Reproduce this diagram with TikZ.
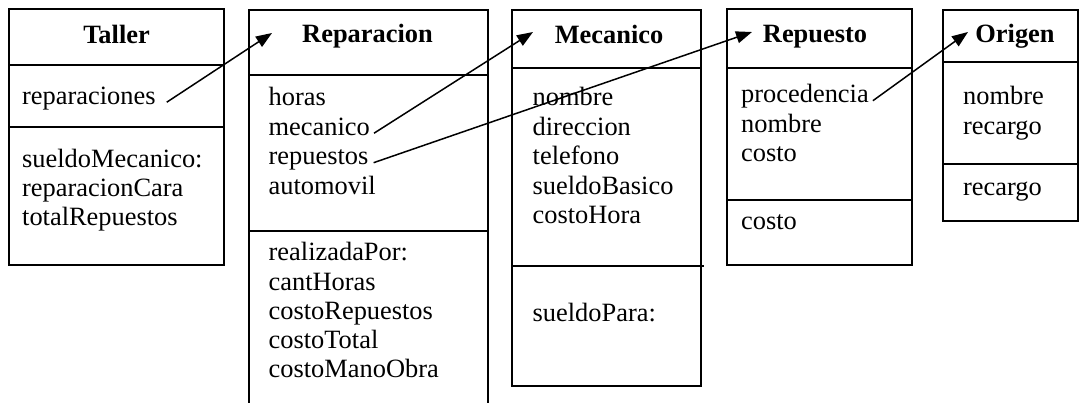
\documentclass[tikz,border=0pt]{standalone}
\usepackage{fontspec}
\setmainfont{Liberation Serif}
\usepackage{tikz}
\usetikzlibrary{arrows.meta}
\tikzstyle{cls}=[draw=black,line width=1.6pt,anchor=north west,inner sep=0pt,outer sep=0pt]
\tikzstyle{sep}=[line width=1.6pt]
\tikzstyle{title}=[anchor=base,inner sep=0pt,font=\fontsize{26.4}{30}\selectfont\bfseries]
\tikzstyle{attr}=[anchor=base west,inner sep=0pt,font=\fontsize{26.4}{30}\selectfont]
\tikzstyle{ref}=[line width=1.5pt,-{Triangle[length=16pt,width=12pt]}]
\tikzstyle{none}=[]

\begin{document}
\begin{tikzpicture}[x=1pt,y=-1pt]
    \useasboundingbox (0,0) rectangle (1080,403);
    % cajas
    \node [style=cls,minimum width=215pt,minimum height=256pt] (taller) at (9,9) {};
    \node [style=cls,minimum width=239pt,minimum height=420pt] (reparacion) at (249,10) {};
    \node [style=cls,minimum width=189pt,minimum height=376pt] (mecanico) at (512,10) {};
    \node [style=cls,minimum width=185pt,minimum height=256pt] (repuesto) at (727,9) {};
    \node [style=cls,minimum width=135pt,minimum height=211pt] (origen) at (943,10) {};
    \draw [style=sep] (taller.north west) ++(0,56) -- ++(215,0);
    \draw [style=sep] (taller.north west) ++(0,118) -- ++(215,0);
    \draw [style=sep] (reparacion.north west) ++(0,65) -- ++(239,0);
    \draw [style=sep] (reparacion.north west) ++(0,221) -- ++(239,0);
    \draw [style=sep] (mecanico.north west) ++(0,58) -- ++(189,0);
    \draw [style=sep] (mecanico.north west) ++(0,256) -- ++(192,0);
    \draw [style=sep] (repuesto.north west) ++(0,59) -- ++(185,0);
    \draw [style=sep] (repuesto.north west) ++(0,191) -- ++(185,0);
    \draw [style=sep] (origen.north west) ++(0,52) -- ++(135,0);
    \draw [style=sep] (origen.north west) ++(0,154) -- ++(135,0);
    % titulos
    \node [style=title] (tallerT) at (116.5,44) {Taller};
    \node [style=title] (reparacionT) at (367.5,43) {Reparacion};
    \node [style=title] (mecanicoT) at (609,44) {Mecanico};
    \node [style=title] (repuestoT) at (815,43) {Repuesto};
    \node [style=title] (origenT) at (1015,43) {Origen};
    % Taller
    \node [style=attr] (reparaciones) at (22,104.5) {reparaciones};
    \node [style=attr] (sueldoMecanico) at (22,167.5) {sueldoMecanico:};
    \node [style=attr] (reparacionCara) at (22,196.5) {reparacionCara};
    \node [style=attr] (totalRepuestos) at (22,225.5) {totalRepuestos};
    % Reparacion
    \node [style=attr] (horas) at (268.5,106) {horas};
    \node [style=attr] (mecanicoA) at (268.5,135.5) {mecanico};
    \node [style=attr] (repuestosA) at (268.5,165) {repuestos};
    \node [style=attr] (automovil) at (268.5,194.5) {automovil};
    \node [style=attr] (realizadaPor) at (268.5,261) {realizadaPor:};
    \node [style=attr] (cantHoras) at (268.5,290.3) {cantHoras};
    \node [style=attr] (costoRepuestos) at (268.5,319.6) {costoRepuestos};
    \node [style=attr] (costoTotal) at (268.5,349) {costoTotal};
    \node [style=attr] (costoManoObra) at (268.5,378) {costoManoObra};
    % Mecanico
    \node [style=attr] (mNombre) at (532.5,106) {nombre};
    \node [style=attr] (direccion) at (532.5,135.5) {direccion};
    \node [style=attr] (telefono) at (532.5,165) {telefono};
    \node [style=attr] (sueldoBasico) at (532.5,194.5) {sueldoBasico};
    \node [style=attr] (costoHora) at (532.5,224) {costoHora};
    \node [style=attr] (sueldoPara) at (532.5,322) {sueldoPara:};
    % Repuesto
    \node [style=attr] (procedencia) at (741,103) {procedencia};
    \node [style=attr] (rNombre) at (741,132.5) {nombre};
    \node [style=attr] (rCosto) at (741,162) {costo};
    \node [style=attr] (rCostoM) at (741,230) {costo};
    % Origen
    \node [style=attr] (oNombre) at (963,105) {nombre};
    \node [style=attr] (oRecargo) at (963,134.5) {recargo};
    \node [style=attr] (oRecargoM) at (963,196) {recargo};
    % referencias
    \coordinate (reparacionIn) at (272,33);
    \coordinate (mecanicoIn) at (533,32);
    \coordinate (repuestoIn) at (752,32);
    \coordinate (origenIn) at (968,32);
    \draw [style=ref] ([xshift=11pt]reparaciones.mid east) to (reparacionIn);
    \draw [style=ref] ([xshift=4pt]mecanicoA.mid east) to (mecanicoIn);
    \draw [style=ref] ([xshift=5pt]repuestosA.mid east) to (repuestoIn);
    \draw [style=ref] ([xshift=4pt]procedencia.mid east) to (origenIn);
\end{tikzpicture}
\end{document}
